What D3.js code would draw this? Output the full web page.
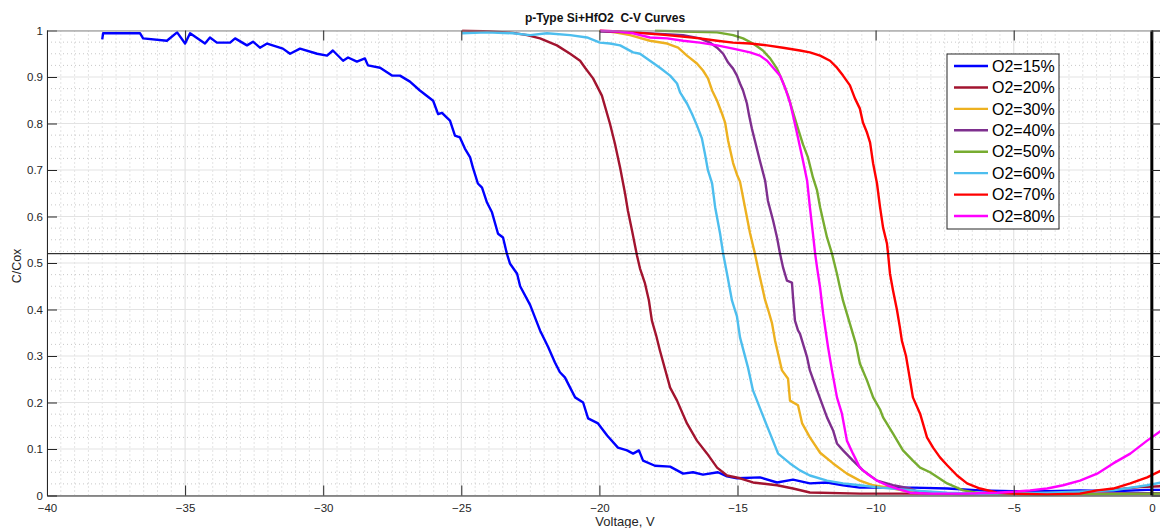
<!DOCTYPE html>
<html>
<head>
<meta charset="utf-8">
<script src="https://cdn.jsdelivr.net/npm/d3@7"></script>
<style>
  html, body { margin: 0; padding: 0; background: #fff; }
  svg { display: block; font-family: "Liberation Sans", Arial, sans-serif; }
</style>
</head>
<body>
<svg id="chart" width="1160" height="528"></svg>
<script>
// ---------- DATA ----------
const seriesLabels = ["O2=15%", "O2=20%", "O2=30%", "O2=40%", "O2=50%", "O2=60%", "O2=70%", "O2=80%"];
const xTicks = [-40, -35, -30, -25, -20, -15, -10, -5, 0];
const yTicks = [0, 0.1, 0.2, 0.3, 0.4, 0.5, 0.6, 0.7, 0.8, 0.9, 1];
const refLevel = 0.52;   // horizontal reference line (C/Cox)
const refVoltage = 0;    // vertical reference line (V)

// [Voltage, C/Cox]
const o2_15 = [[-38.0,0.981],[-37.97,0.994],[-37.61,0.994],[-36.63,0.994],[-36.52,0.983],[-35.66,0.978],[-35.29,0.996],[-35.0,0.972],[-34.82,0.994],[-34.28,0.972],[-34.10,0.985],[-33.85,0.974],[-33.37,0.974],[-33.19,0.983],[-32.76,0.968],[-32.54,0.976],[-32.29,0.963],[-32.03,0.972],[-31.46,0.961],[-31.20,0.95],[-30.84,0.961],[-30.22,0.95],[-29.86,0.946],[-29.65,0.957],[-29.28,0.935],[-29.10,0.942],[-28.78,0.933],[-28.49,0.940],[-28.38,0.925],[-27.94,0.920],[-27.51,0.903],[-27.22,0.903],[-26.86,0.89],[-26.50,0.871],[-26.02,0.849],[-25.84,0.82],[-25.70,0.823],[-25.41,0.806],[-25.23,0.774],[-25.05,0.77],[-24.87,0.746],[-24.68,0.727],[-24.58,0.705],[-24.40,0.671],[-24.25,0.662],[-24.07,0.63],[-23.89,0.609],[-23.67,0.563],[-23.49,0.555],[-23.35,0.52],[-23.24,0.499],[-22.98,0.477],[-22.87,0.45],[-22.51,0.41],[-22.15,0.355],[-21.86,0.32],[-21.61,0.286],[-21.43,0.265],[-21.25,0.254],[-20.88,0.211],[-20.59,0.20],[-20.41,0.166],[-20.05,0.155],[-19.72,0.129],[-19.33,0.103],[-19.0,0.097],[-18.78,0.09],[-18.57,0.097],[-18.42,0.075],[-17.99,0.064],[-17.44,0.062],[-16.97,0.047],[-16.61,0.05],[-16.25,0.045],[-15.71,0.05],[-15.38,0.041],[-15.02,0.037],[-14.19,0.039],[-13.57,0.028],[-12.99,0.034],[-12.38,0.026],[-11.76,0.028],[-11.18,0.022],[-10.57,0.017],[-9.37,0.017],[-8.65,0.017],[-7.41,0.015],[-6.22,0.011],[-5.03,0.009],[-3.79,0.009],[-2.60,0.011],[-1.40,0.009],[-0.17,0.012],[0.35,0.012]];
const o2_20 = [[-24.97,1.0],[-23.96,0.998],[-23.13,0.995],[-22.62,0.99],[-22.15,0.983],[-21.54,0.968],[-21.06,0.95],[-20.70,0.935],[-20.52,0.92],[-20.23,0.897],[-19.91,0.86],[-19.62,0.80],[-19.44,0.757],[-19.25,0.705],[-19.07,0.649],[-18.97,0.613],[-18.82,0.57],[-18.64,0.516],[-18.53,0.488],[-18.35,0.456],[-18.21,0.42],[-18.10,0.376],[-17.95,0.345],[-17.81,0.312],[-17.44,0.232],[-17.19,0.204],[-16.83,0.155],[-16.47,0.118],[-16.10,0.09],[-15.74,0.06],[-15.38,0.043],[-14.91,0.037],[-14.44,0.028],[-13.57,0.022],[-12.99,0.015],[-12.38,0.0065],[-10.57,0.004],[-9.37,0.004],[-7.31,0.004],[-5.13,0.004],[-2.96,0.006],[-1.51,0.012],[-0.43,0.018],[0.35,0.02]];
const o2_30 = [[-20.01,1.0],[-19.44,0.996],[-18.89,0.99],[-18.17,0.978],[-17.55,0.972],[-17.15,0.963],[-16.83,0.946],[-16.47,0.929],[-16.25,0.914],[-16.07,0.897],[-15.92,0.871],[-15.74,0.849],[-15.56,0.821],[-15.45,0.802],[-15.34,0.763],[-15.16,0.715],[-15.02,0.69],[-14.91,0.675],[-14.73,0.62],[-14.55,0.565],[-14.37,0.52],[-14.19,0.47],[-14.0,0.42],[-13.86,0.393],[-13.75,0.37],[-13.64,0.333],[-13.39,0.269],[-13.17,0.251],[-13.10,0.204],[-12.81,0.194],[-12.66,0.155],[-12.38,0.125],[-12.01,0.092],[-11.54,0.069],[-11.04,0.047],[-10.57,0.032],[-10.09,0.022],[-9.37,0.015],[-8.65,0.007],[-7.31,0.004],[-5.50,0.003],[-3.32,0.003],[-1.51,0.004],[0.35,0.005]];
const o2_40 = [[-19.98,0.998],[-18.78,0.996],[-16.97,0.99],[-16.36,0.983],[-16.0,0.974],[-15.74,0.963],[-15.52,0.95],[-15.34,0.931],[-15.16,0.918],[-15.02,0.903],[-14.91,0.886],[-14.80,0.871],[-14.66,0.843],[-14.58,0.817],[-14.48,0.789],[-14.37,0.763],[-14.19,0.72],[-14.0,0.677],[-13.90,0.634],[-13.71,0.591],[-13.57,0.555],[-13.46,0.52],[-13.35,0.49],[-13.21,0.462],[-13.03,0.458],[-12.99,0.426],[-12.92,0.376],[-12.81,0.355],[-12.74,0.348],[-12.48,0.297],[-12.38,0.269],[-12.12,0.226],[-11.76,0.168],[-11.54,0.14],[-11.40,0.112],[-11.18,0.097],[-10.82,0.075],[-10.46,0.054],[-9.95,0.032],[-9.37,0.022],[-8.75,0.015],[-8.39,0.006],[-6.94,0.003],[-4.77,0.003],[-2.60,0.004],[0.35,0.005]];
const o2_50 = [[-17.99,1.0],[-16.97,0.998],[-15.74,0.996],[-15.16,0.99],[-14.80,0.983],[-14.44,0.972],[-14.08,0.957],[-13.82,0.94],[-13.57,0.918],[-13.35,0.888],[-13.17,0.86],[-12.99,0.824],[-12.81,0.789],[-12.63,0.755],[-12.45,0.727],[-12.27,0.684],[-12.12,0.656],[-12.01,0.62],[-11.90,0.591],[-11.76,0.555],[-11.58,0.52],[-11.40,0.477],[-11.29,0.447],[-11.18,0.419],[-11.04,0.391],[-10.86,0.355],[-10.71,0.325],[-10.57,0.284],[-10.31,0.247],[-10.09,0.211],[-9.84,0.185],[-9.73,0.168],[-9.37,0.133],[-9.01,0.097],[-8.65,0.075],[-8.39,0.06],[-8.03,0.05],[-7.41,0.026],[-6.83,0.011],[-6.22,0.005],[-4.05,0.003],[-1.88,0.003],[0.35,0.004]];
const o2_60 = [[-24.97,0.994],[-24.07,0.996],[-23.13,0.994],[-22.51,0.99],[-21.90,0.994],[-21.06,0.99],[-20.45,0.985],[-19.98,0.974],[-19.62,0.972],[-19.25,0.968],[-18.78,0.953],[-18.53,0.95],[-18.17,0.935],[-17.81,0.92],[-17.44,0.903],[-17.19,0.886],[-17.08,0.867],[-16.83,0.843],[-16.65,0.821],[-16.47,0.796],[-16.29,0.768],[-16.18,0.735],[-16.07,0.699],[-15.92,0.671],[-15.81,0.62],[-15.63,0.563],[-15.52,0.52],[-15.38,0.477],[-15.20,0.419],[-15.02,0.385],[-14.91,0.34],[-14.62,0.275],[-14.44,0.226],[-14.11,0.176],[-13.82,0.133],[-13.53,0.09],[-13.10,0.069],[-12.74,0.054],[-12.38,0.043],[-11.76,0.032],[-11.18,0.026],[-10.57,0.022],[-9.84,0.017],[-8.65,0.011],[-7.41,0.006],[-6.22,0.004],[-3.79,0.006],[-1.40,0.011],[-0.17,0.022],[0.35,0.028]];
const o2_70 = [[-19.98,1.0],[-18.78,0.996],[-17.55,0.99],[-16.36,0.983],[-15.74,0.978],[-15.16,0.974],[-14.55,0.972],[-13.93,0.968],[-13.35,0.963],[-12.74,0.957],[-12.38,0.953],[-12.01,0.946],[-11.65,0.935],[-11.40,0.92],[-11.18,0.903],[-10.93,0.882],[-10.75,0.854],[-10.57,0.832],[-10.46,0.802],[-10.31,0.78],[-10.20,0.759],[-10.09,0.714],[-9.95,0.671],[-9.84,0.62],[-9.73,0.576],[-9.59,0.542],[-9.55,0.52],[-9.48,0.477],[-9.37,0.441],[-9.23,0.40],[-9.12,0.361],[-9.05,0.333],[-8.90,0.30],[-8.75,0.247],[-8.65,0.211],[-8.39,0.176],[-8.14,0.125],[-7.92,0.103],[-7.67,0.082],[-7.41,0.065],[-7.05,0.043],[-6.69,0.026],[-6.22,0.015],[-5.60,0.006],[-5.03,0.004],[-3.79,0.002],[-2.60,0.004],[-1.98,0.011],[-1.40,0.015],[-0.78,0.026],[-0.17,0.039],[0.35,0.054]];
const o2_80 = [[-19.98,1.0],[-19.36,0.998],[-18.78,0.994],[-18.17,0.985],[-17.55,0.983],[-16.97,0.978],[-16.36,0.974],[-15.74,0.968],[-15.16,0.961],[-14.55,0.953],[-14.19,0.946],[-13.93,0.935],[-13.71,0.92],[-13.46,0.903],[-13.28,0.877],[-13.10,0.845],[-12.99,0.817],[-12.85,0.78],[-12.74,0.75],[-12.63,0.72],[-12.48,0.677],[-12.38,0.62],[-12.27,0.563],[-12.19,0.52],[-12.12,0.49],[-12.01,0.447],[-11.90,0.391],[-11.80,0.35],[-11.72,0.318],[-11.58,0.269],[-11.40,0.211],[-11.22,0.176],[-11.04,0.118],[-10.82,0.09],[-10.57,0.06],[-10.31,0.047],[-9.95,0.032],[-9.59,0.022],[-9.23,0.015],[-8.75,0.006],[-8.03,0.004],[-6.83,0.004],[-5.60,0.006],[-5.03,0.008],[-4.41,0.011],[-3.79,0.015],[-3.21,0.022],[-2.60,0.032],[-1.98,0.047],[-1.40,0.069],[-0.78,0.09],[-0.17,0.118],[0.35,0.14]];

const seriesData = [o2_15, o2_20, o2_30, o2_40, o2_50, o2_60, o2_70, o2_80];
const seriesColors = ["#0000FF", "#A2142F", "#EDB120", "#7E2F8E", "#77AC30", "#4DBEEE", "#FF0000", "#FF00FF"];

// ---------- LAYOUT ----------
(function draw() {
const svg = d3.select("#chart");
const pLeft = 47, pRight = 1161.5, pTop = 30.5, pBottom = 495.5;
const x = d3.scaleLinear().domain([-40, 0.35]).range([pLeft, pRight]);
const y = d3.scaleLinear().domain([0, 1]).range([pBottom, pTop]);

// Minor grid (dotted)
const xMinor = d3.range(-40, 0.36, 0.5).filter(v => Math.abs(v / 5 - Math.round(v / 5)) > 1e-6);
const yMinor = d3.range(0, 1.0001, 0.025).filter(v => Math.abs(v * 10 - Math.round(v * 10)) > 1e-6);
const grid = svg.append("g");
grid.selectAll("line.xm").data(xMinor).join("line")
  .attr("x1", d => x(d)).attr("x2", d => x(d)).attr("y1", pTop).attr("y2", pBottom)
  .attr("stroke", "#c8c8c8").attr("stroke-width", 1).attr("stroke-dasharray", "1,3");
grid.selectAll("line.ym").data(yMinor).join("line")
  .attr("y1", d => y(d)).attr("y2", d => y(d)).attr("x1", pLeft).attr("x2", pRight)
  .attr("stroke", "#c8c8c8").attr("stroke-width", 1).attr("stroke-dasharray", "1,3");
// Major grid
grid.selectAll("line.xM").data(xTicks).join("line")
  .attr("x1", d => x(d)).attr("x2", d => x(d)).attr("y1", pTop).attr("y2", pBottom)
  .attr("stroke", "#e3e3e3").attr("stroke-width", 1.2);
grid.selectAll("line.yM").data(yTicks).join("line")
  .attr("y1", d => y(d)).attr("y2", d => y(d)).attr("x1", pLeft).attr("x2", pRight)
  .attr("stroke", "#e3e3e3").attr("stroke-width", 1.2);

// Clip
svg.append("clipPath").attr("id", "plotclip").append("rect")
  .attr("x", pLeft).attr("y", pTop - 1).attr("width", pRight - pLeft).attr("height", pBottom - pTop + 1);

// Curves
const line = d3.line().x(d => x(d[0])).y(d => y(d[1]));
const curves = svg.append("g").attr("clip-path", "url(#plotclip)");
seriesData.forEach((data, i) => {
  curves.append("path").datum(data)
    .attr("d", line)
    .attr("fill", "none")
    .attr("stroke", seriesColors[i])
    .attr("stroke-width", 2.4)
    .attr("stroke-linejoin", "round");
});

// Reference lines
curves.append("line")
  .attr("x1", pLeft).attr("x2", pRight).attr("y1", y(refLevel)).attr("y2", y(refLevel))
  .attr("stroke", "#000").attr("stroke-width", 1);
curves.append("line")
  .attr("x1", x(refVoltage)).attr("x2", x(refVoltage)).attr("y1", pTop).attr("y2", pBottom)
  .attr("stroke", "#000").attr("stroke-width", 3);

// Axes
const axisColor = "#262626";
const fmtX = d3.format("d");
const fmtY = v => (v === 0 || v === 1) ? String(v) : d3.format(".1f")(v);

const gB = svg.append("g").attr("transform", `translate(0,${pBottom})`)
  .call(d3.axisBottom(x).tickValues(xTicks).tickFormat(fmtX).tickSizeInner(-10).tickSizeOuter(0).tickPadding(8));
const gL = svg.append("g").attr("transform", `translate(${pLeft},0)`)
  .call(d3.axisLeft(y).tickValues(yTicks).tickFormat(fmtY).tickSizeInner(-10).tickSizeOuter(0).tickPadding(4));
const gT = svg.append("g").attr("transform", `translate(0,${pTop})`)
  .call(d3.axisTop(x).tickValues(xTicks).tickFormat("").tickSizeInner(-10).tickSizeOuter(0));
const gR = svg.append("g").attr("transform", `translate(${pRight},0)`)
  .call(d3.axisRight(y).tickValues(yTicks).tickFormat("").tickSizeInner(-10).tickSizeOuter(0));

[gB, gL].forEach(g => {
  g.select(".domain").attr("stroke", axisColor).attr("stroke-width", 1);
  g.selectAll(".tick line").attr("stroke", axisColor);
  g.selectAll(".tick text").attr("fill", axisColor).style("font-size", "11.5px")
    .style("font-family", '"Liberation Sans", Arial, sans-serif');
});
[gT, gR].forEach(g => {
  g.select(".domain").attr("stroke", "#8a8a8a").attr("stroke-width", 1);
  g.selectAll(".tick line").attr("stroke", axisColor);
});

// Title and labels
svg.append("text")
  .attr("x", 605).attr("y", 22)
  .attr("text-anchor", "middle")
  .style("font-size", "12px").style("font-weight", "bold").style("white-space", "pre")
  .attr("fill", "#111")
  .text("p-Type Si+HfO2  C-V Curves");

svg.append("text")
  .attr("x", 625).attr("y", 526)
  .attr("text-anchor", "middle")
  .style("font-size", "13px").attr("fill", axisColor)
  .text("Voltage, V");

svg.append("text")
  .attr("transform", "translate(21,266) rotate(-90)")
  .attr("text-anchor", "middle")
  .style("font-size", "12.5px").attr("fill", axisColor)
  .text("C/Cox");

// Legend
const lg = svg.append("g");
const lgX = 947, lgY = 54, lgW = 112, lgH = 175, rowH = 21.43, row0 = 66;
lg.append("rect").attr("x", lgX).attr("y", lgY).attr("width", lgW).attr("height", lgH)
  .attr("fill", "#fff").attr("stroke", axisColor).attr("stroke-width", 1);
seriesLabels.forEach((lab, i) => {
  const cy = row0 + i * rowH;
  lg.append("line").attr("x1", 954).attr("x2", 988).attr("y1", cy).attr("y2", cy)
    .attr("stroke", seriesColors[i]).attr("stroke-width", 2.4);
  lg.append("text").attr("x", 992).attr("y", cy).attr("dy", "0.36em")
    .style("font-size", "16px").attr("fill", "#000").text(lab);
});
})();
</script>
</body>
</html>
